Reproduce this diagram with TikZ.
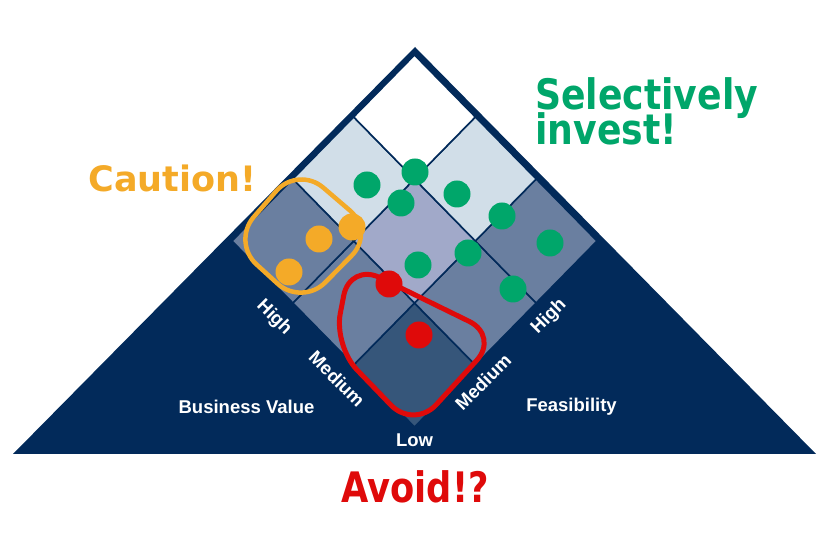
\documentclass[tikz,border=0pt]{standalone}
\usepackage{fontspec}
\setmainfont{Liberation Sans}
\newfontfamily\dejavu{DejaVu Sans}
\definecolor{navy}{HTML}{022A5A}
\definecolor{cdark}{HTML}{36567A}
\definecolor{cmed}{HTML}{6A7FA0}
\definecolor{clav}{HTML}{A1A9C9}
\definecolor{clight}{HTML}{D1DEE8}
\definecolor{dgreen}{HTML}{00A66A}
\definecolor{dorange}{HTML}{F4AA28}
\definecolor{dred}{HTML}{DF0A0A}
\newcommand\mycell[3]{\filldraw[fill=#3,draw=navy,line width=1.6pt,line join=miter]
  ({414.5+60.833*(#2-#1)},{427-62*(#1+#2)}) -- ++(-60.833,-62) -- ++(60.833,-62) -- ++(60.833,62) -- cycle;}
\tikzset{
  dot/.style={circle,inner sep=0pt,minimum size=27pt},
  gdot/.style={dot,fill=dgreen},
  odot/.style={dot,fill=dorange},
  rdot/.style={dot,fill=dred},
  lab/.style={text=white,inner sep=0pt,font=\fontsize{18.5}{20}\selectfont\bfseries},
  big/.style={inner sep=0pt,font=\dejavu\fontsize{42}{44}\selectfont\bfseries},
}
\begin{document}
\begin{tikzpicture}[x=1pt,y=-1pt]
\useasboundingbox (0,0) rectangle (833,534);
% big triangle
\fill[navy] (13,454) -- (415,47) -- (816,454) -- cycle;
% grid cells
\mycell{0}{0}{cdark}
\mycell{1}{0}{cmed}
\mycell{2}{0}{cmed}
\mycell{0}{1}{cmed}
\mycell{0}{2}{cmed}
\mycell{1}{1}{clav}
\mycell{2}{1}{clight}
\mycell{1}{2}{clight}
\mycell{2}{2}{white}
% green dots
\node[gdot] (g1) at (367,185) {};
\node[gdot] (g2) at (415,172) {};
\node[gdot] (g3) at (401,203) {};
\node[gdot] (g4) at (457,194) {};
\node[gdot] (g5) at (502,216) {};
\node[gdot] (g6) at (550,243) {};
\node[gdot] (g7) at (468,253) {};
\node[gdot] (g8) at (418,265) {};
\node[gdot] (g9) at (513,289) {};
% orange dots
\node[odot] (o1) at (289,272) {};
\node[odot] (o2) at (319,239) {};
\node[odot] (o3) at (352,227) {};
% red dots
\node[rdot] (r1) at (389,284) {};
\node[rdot] (r2) at (419,335) {};
% outlines
\draw[dorange,line width=4.5pt,rounded corners=33pt] (298,166) -- (375,232) -- (302,306) -- (232,242) -- cycle;
\draw[dred,line width=5pt,rounded corners=33pt] (350,263) -- (499,336) -- (414,429) -- (334,346) -- cycle;
% axis labels
\node[lab,anchor=base] (bv) at (246.5,413.5) {Business Value};
\node[lab,anchor=base] (fe) at (571.5,412) {Feasibility};
\node[lab,anchor=base] (low) at (414.5,447) {Low};
\node[lab,rotate=-45] (lh) at (274,318) {High};
\node[lab,rotate=-45] (lm) at (337,379) {Medium};
\node[lab,rotate=45] (rm) at (483,382) {Medium};
\node[lab,rotate=45] (rh) at (549,317) {High};
% big labels
\node[inner sep=0pt,anchor=base,text=dorange,font=\dejavu\fontsize{35}{36}\selectfont\bfseries] (caution) at (172.5,191.5) {Caution!};
\node[big,anchor=base west,text=dgreen] (sel) at (535,110) {\scalebox{0.862}[1]{Selectively}};
\node[big,anchor=base west,text=dgreen] (inv) at (535,145) {\scalebox{0.862}[1]{invest!}};
\node[inner sep=0pt,anchor=base,text=dred,font=\dejavu\fontsize{42}{44}\selectfont\bfseries] (avoid) at (415,502) {\scalebox{0.84}[1]{Avoid!?}};
\end{tikzpicture}
\end{document}
